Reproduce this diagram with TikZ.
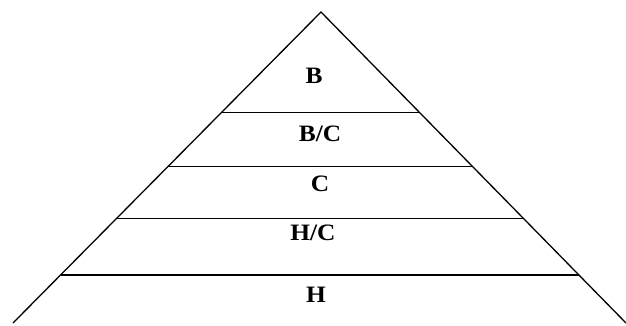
\documentclass[tikz,border=0pt]{standalone}
\usepackage{fontspec}
\setmainfont{Liberation Serif}
\usetikzlibrary{calc}
\begin{document}
\begin{tikzpicture}[x=1pt,y=-1pt,
  edge/.style={line width=1.3pt, black},
  lvl/.style={line width=1.3pt, black},
  lab/.style={font=\fontsize{23.5}{25}\selectfont\bfseries, inner sep=0pt, anchor=center, xscale=1.08}]
\useasboundingbox (0,0) rectangle (626,325);
\coordinate (apex) at (321,12);
\coordinate (bl) at (13,323);
\coordinate (br) at (626,323);
\draw[edge] (bl) -- (apex) -- (br);
\foreach \t [count=\i] in {0.3232,0.4968,0.6646,0.8457}{
  \coordinate (l\i) at ($(apex)!\t!(bl)$);
  \coordinate (r\i) at ($(apex)!\t!(br)$);
  \draw[lvl] (l\i) -- (r\i);
}
\node[lab] (b) at (314,76) {B};
\node[lab] (bc) at (320,134) {B/C};
\node[lab] (c) at (320,184) {C};
\node[lab] (hc) at (313,233) {H/C};
\node[lab] (h) at (316,295) {H};
\end{tikzpicture}
\end{document}
